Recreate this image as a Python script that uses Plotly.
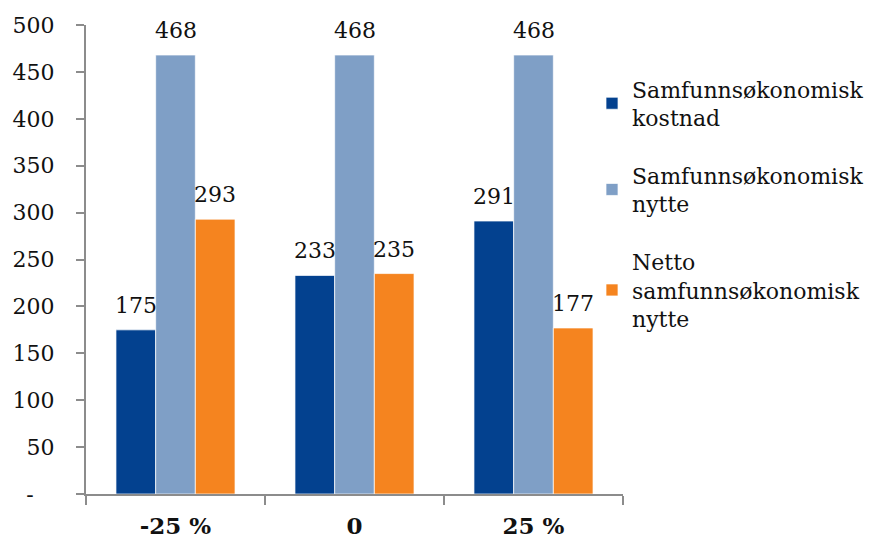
import plotly.graph_objects as go

categories = ["-25 %", "0", "25 %"]
kostnad = [175, 233, 291]
nytte = [468, 468, 468]
netto = [293, 235, 177]

series_names = [
    "Samfunnsøkonomisk<br>kostnad",
    "Samfunnsøkonomisk<br>nytte",
    "Netto<br>samfunnsøkonomisk<br>nytte",
]
series_colors = ["#03418F", "#7F9FC6", "#F5841F"]

y_tickvals = [0, 50, 100, 150, 200, 250, 300, 350, 400, 450, 500]
y_ticktext = ["-\u00a0\u00a0\u00a0"] + [str(v) for v in y_tickvals[1:]]

FONT = "DejaVu Serif"
PLOT_W = 874 - 86 - 251
BARGAP = 0.335
BAR_PX = PLOT_W / len(categories) * (1 - BARGAP) / 3

fig = go.Figure()
all_series = [kostnad, nytte, netto]
for i, (name, vals, col) in enumerate(zip(series_names, all_series, series_colors)):
    fig.add_trace(go.Bar(
        x=categories, y=vals, name=name,
        marker=dict(color=col, line=dict(color="rgba(255,255,255,0.7)", width=1)),
        legendgroup=f"g{i}",
    ))
    # value labels above each bar (x given as category index)
    for j, v in enumerate(vals):
        fig.add_annotation(
            x=j, y=v, text=str(v), showarrow=False,
            xshift=(i - 1) * BAR_PX, yshift=10, yanchor="bottom",
            font=dict(family=FONT, size=22, color="#111"),
        )

fig.update_layout(
    width=874, height=541,
    margin=dict(l=86, r=251, t=25, b=47, autoexpand=False),
    paper_bgcolor="white", plot_bgcolor="white",
    barmode="group", bargap=BARGAP, bargroupgap=0,
    font=dict(family=FONT, size=22, color="#111"),
    legend=dict(
        x=0.9423, y=0.908, xanchor="left", yanchor="top",
        font=dict(family=FONT, size=22, color="#111"),
        traceorder="grouped", tracegroupgap=26,
        itemwidth=30, bgcolor="rgba(0,0,0,0)",
    ),
    xaxis=dict(
        type="category",
        showline=True, linecolor="#8c8c8c", linewidth=2,
        ticks="outside", tickson="boundaries", ticklen=9, tickcolor="#8c8c8c", tickwidth=2,
        tickfont=dict(family=FONT, size=23, color="#111", weight="bold"),
        ticklabelstandoff=10, automargin=False,
        showgrid=False,
    ),
    yaxis=dict(
        range=[0, 500], tickvals=y_tickvals, ticktext=y_ticktext,
        showline=True, linecolor="#8c8c8c", linewidth=2,
        ticks="outside", ticklen=8, tickcolor="#8c8c8c", tickwidth=2,
        ticklabelstandoff=17, automargin=False,
        showgrid=False, zeroline=False,
        tickfont=dict(family=FONT, size=22, color="#111"),
    ),
)

fig.write_html("out.html")
